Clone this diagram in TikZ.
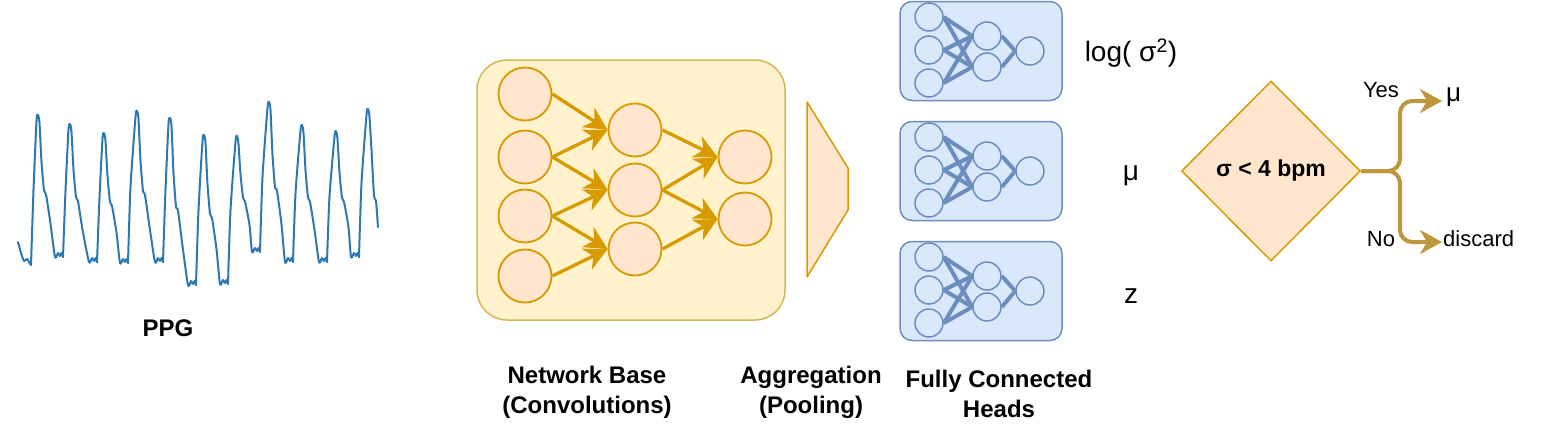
\documentclass[tikz,border=0pt]{standalone}
\usepackage{fontspec}
\setmainfont{Liberation Sans}
\usetikzlibrary{arrows.meta,shapes.geometric}
\definecolor{ppgblue}{HTML}{2B78B2}
\definecolor{nbfill}{HTML}{FFF2CC}
\definecolor{nbdraw}{HTML}{D6B656}
\definecolor{cfill}{HTML}{FFE6CC}
\definecolor{cdraw}{HTML}{D79B00}
\definecolor{hfill}{HTML}{DAE8FC}
\definecolor{hdraw}{HTML}{6C8EBF}
\definecolor{decarr}{HTML}{BE963C}
\begin{document}
\begin{tikzpicture}[x=1pt,y=-1pt,
  ppg/.style={draw=ppgblue,line width=2pt,line join=round,line cap=round},
  nbbox/.style={draw=nbdraw,fill=nbfill,rounded corners=30pt,line width=1.5pt,minimum width=308pt,minimum height=260pt,inner sep=0},
  nbc/.style={circle,draw=cdraw,fill=cfill,line width=1.8pt,minimum size=53pt,inner sep=0},
  nbarrow/.style={draw=cdraw,line width=3.3pt,-{Stealth[length=23pt,width=23pt,inset=7pt]}},
  hbox/.style={draw=hdraw,fill=hfill,rounded corners=12pt,line width=1.5pt,minimum width=162pt,minimum height=99pt,inner sep=0},
  hc/.style={circle,draw=hdraw,fill=hfill,line width=1.5pt,minimum size=28pt,inner sep=0},
  hline/.style={draw=hdraw,line width=4pt},
  lab/.style={font=\fontsize{24}{30}\selectfont\bfseries,align=center,inner sep=0},
  biglab/.style={font=\fontsize{28}{32}\selectfont,inner sep=0},
  smalllab/.style={font=\fontsize{22}{26}\selectfont,inner sep=0},
  decarrow/.style={draw=decarr,line width=4pt,rounded corners=12pt,-{Stealth[length=22pt,width=24pt,inset=7pt]}}
]
\useasboundingbox (0,0) rectangle (1542,434);

% ---------------- PPG waveform ----------------
\draw[ppg] plot[smooth,tension=0.4] coordinates {(18,242) (21,253) (24,261) (27,259) (29,262) (31,265)};
\foreach \tx/\ty/\px/\py/\nx/\ny in {
  31/265/38/115/63/257,
  63/257/70/124/97/262,
  97/262/104/133/128/263,
  128/263/137/111/163/262,
  163/262/170/118/196/285,
  196/285/204/135/228/284,
  228/284/237/136/260/252,
  260/252/269/102/293/262,
  293/262/302/125/327/262,
  327/262/336/131/359/257}{
  \pgfmathsetmacro\ra{\tx+2.5}
  \pgfmathsetmacro\rb{\ty-0.5*(\ty-\py)}
  \pgfmathsetmacro\nt{\py+0.53*(\ny-\py)}
  \pgfmathsetmacro\da{\py+0.33*(\ny-\py)}
  \pgfmathsetmacro\db{\nt+0.5*(\ny-\nt)}
  \draw[ppg] plot[smooth,tension=0.4] coordinates {(\tx,\ty) (\ra,\rb) (\px-1.5,\py+6) (\px,\py) (\px+1.5,\py+8) (\px+3.5,\da) (\px+6,\nt) (\px+8,\nt+4) (\px+12.5,\db) (\nx-8,\ny) (\nx-5,\ny-4) (\nx-3,\ny-1) (\nx-1.5,\ny-4) (\nx,\ny)};
}
\draw[ppg] plot[smooth,tension=0.4] coordinates {(359,257) (361.5,183) (366.5,115) (368,109) (369.5,117) (371.5,150) (374,195) (376,201) (378,227)};
\node[lab] (ppglab) at (168,328) {PPG};

% ---------------- Network base ----------------
\node[nbbox] (nb) at (631,190) {};
\node[nbc] (a1) at (525,94) {};
\node[nbc] (a2) at (525,157) {};
\node[nbc] (a3) at (525,216) {};
\node[nbc] (a4) at (525,276) {};
\node[nbc] (b1) at (635,130) {};
\node[nbc] (b2) at (635,190) {};
\node[nbc] (b3) at (635,249) {};
\node[nbc] (c1) at (745,157) {};
\node[nbc] (c2) at (745,219) {};
\foreach \s/\t in {a1/b1,a2/b1,a2/b2,a3/b2,a3/b3,a4/b3,b1/c1,b2/c1,b2/c2,b3/c2}
  \draw[nbarrow] (\s.east) -- (\t.west);
\node[lab] (nblab) at (587,392) {Network Base\\(Convolutions)};

% ---------------- Aggregation ----------------
\draw[draw=cdraw,fill=cfill,line width=1.5pt,line join=round] (807,102) -- (848,168) -- (848,210) -- (807,277) -- cycle;
\node[lab] (agglab) at (811,392) {Aggregation\\(Pooling)};

% ---------------- Heads ----------------
\foreach \k in {0,1,2}{
  \pgfmathsetmacro\oy{120*\k}
  \node[hbox] (hb\k) at (981,51+\oy) {};
  \node[hc] (h\k a1) at (929,17+\oy) {};
  \node[hc] (h\k a2) at (929,50+\oy) {};
  \node[hc] (h\k a3) at (929,83+\oy) {};
  \node[hc] (h\k b1) at (987,36+\oy) {};
  \node[hc] (h\k b2) at (987,67+\oy) {};
  \node[hc] (h\k c1) at (1030,51+\oy) {};
  \foreach \s/\t in {a1/b1,a1/b2,a2/b1,a2/b2,a3/b1,a3/b2,b1/c1,b2/c1}
    \draw[hline] (h\k\s.east) -- (h\k\t.west);
}
\node[lab] (hlab) at (999,394) {Fully Connected\\Heads};
\node[biglab] (logv) at (1131,53) {log( σ\textsuperscript{2})};
\node[biglab] (mu) at (1131,176) {μ};
\node[biglab] (zz) at (1131,296) {z};

% ---------------- Decision ----------------
\node[diamond,draw=cdraw,fill=cfill,line width=1.5pt,minimum width=179pt,minimum height=180pt,inner sep=0,
  font=\fontsize{23}{26}\selectfont\bfseries] (dec) at (1271,171) {σ < 4 bpm};
\node[smalllab,anchor=west] (muout) at (1446,97) {\fontsize{26}{28}\selectfont μ};
\node[smalllab,anchor=west] (disc) at (1443,239) {discard};
\coordinate (yesend) at (1442,101);
\coordinate (noend) at (1442,242);
\draw[decarrow] (dec.east) -- (1400,171) -- (1400,101) -- (yesend);
\draw[decarrow] (dec.east) -- (1400,171) -- (1400,242) -- (noend);
\node[smalllab] (yes) at (1381,90) {Yes};
\node[smalllab] (no) at (1381,239) {No};
\end{tikzpicture}
\end{document}
